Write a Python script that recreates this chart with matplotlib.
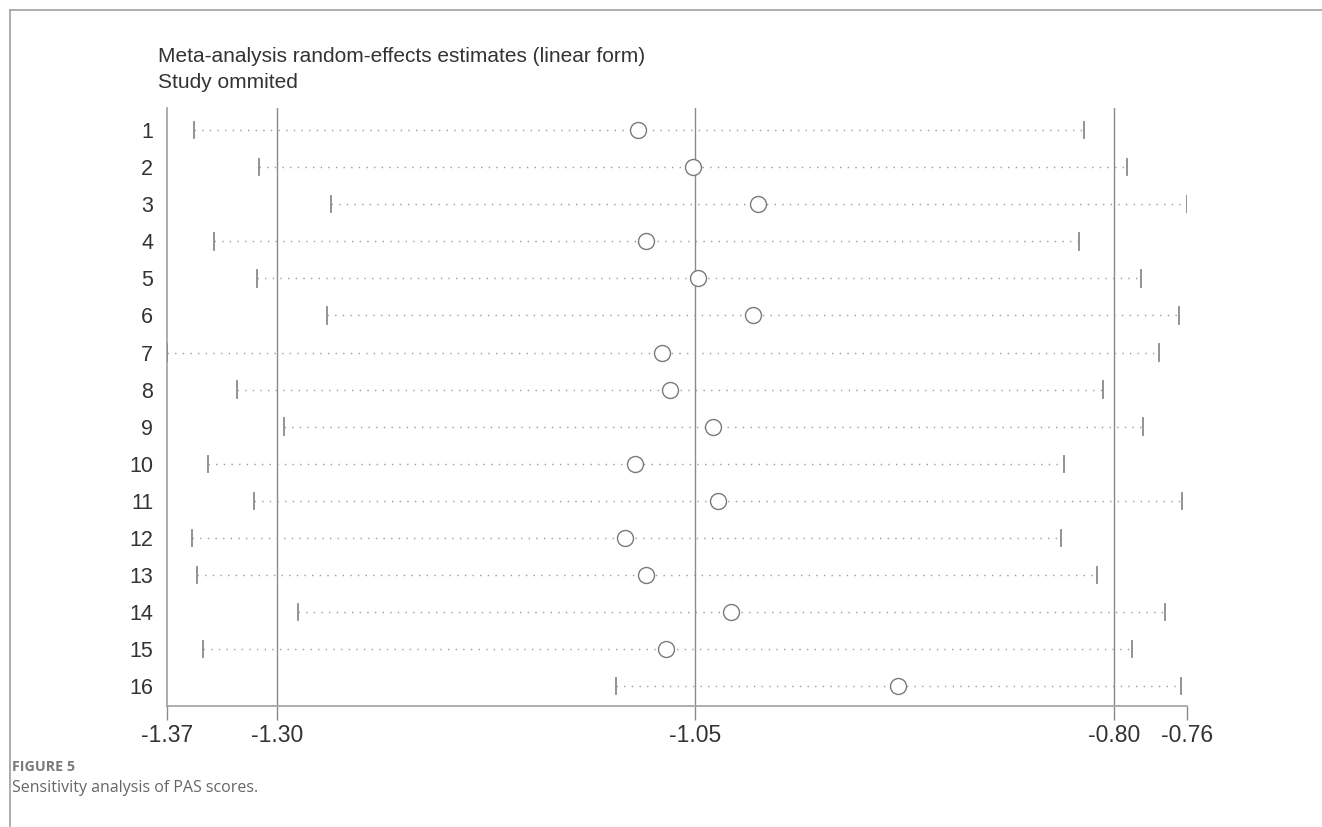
import matplotlib
matplotlib.use("Agg")
import matplotlib.pyplot as plt
from matplotlib.lines import Line2D

# ---- data ----
studies = [str(i) for i in range(1, 17)]
estimate = [-1.0844, -1.0511, -1.0123, -1.0792, -1.0485, -1.0153, -1.0696, -1.0653,
            -1.0396, -1.0857, -1.0364, -1.0917, -1.0792, -1.0284, -1.0675, -0.9290]
lower = [-1.3492, -1.3103, -1.2678, -1.3375, -1.3118, -1.2700, -1.3655, -1.3238,
         -1.2957, -1.3413, -1.3134, -1.3508, -1.3478, -1.2875, -1.3442, -1.0973]
upper = [-0.8179, -0.7922, -0.7562, -0.8207, -0.7835, -0.7608, -0.7731, -0.8061,
         -0.7827, -0.8296, -0.7592, -0.8312, -0.8097, -0.7693, -0.7893, -0.7596]
ref_lines = [-1.30, -1.05, -0.80]
title_lines = ["Meta-analysis random-effects estimates (linear form)", "Study ommited"]
fig_label = "FIGURE 5"
caption = "Sensitivity analysis of PAS scores."

plt.rcParams['font.family'] = ['Liberation Sans', 'DejaVu Sans']

W, H = 1322, 827
fig = plt.figure(figsize=(W / 100, H / 100), dpi=100)
fig.patch.set_facecolor('white')

# outer frame (gray border, top and left)
fig.add_artist(Line2D([10 / W, 10 / W], [0, 1 - 10 / H], transform=fig.transFigure,
                      color='#a0a0a0', lw=1.2))
fig.add_artist(Line2D([10 / W, 1], [1 - 10 / H, 1 - 10 / H], transform=fig.transFigure,
                      color='#a0a0a0', lw=1.2))

ax = fig.add_axes([167 / W, 121 / H, (1187 - 167) / W, (706 - 108) / H])

xmin = min(lower)
xmax = max(upper)
ypos = list(range(1, len(studies) + 1))

for r in ref_lines:
    ax.axvline(r, color='#8a8a8a', lw=1.0, zorder=1)

for y, lo, est, hi in zip(ypos, lower, estimate, upper):
    ax.plot([lo, hi], [y, y], linestyle=(0, (1, 4.5)), color='#9a9a9a', lw=1.0, zorder=2)
    ax.plot([lo, lo], [y - 0.22, y + 0.22], color='#8a8a8a', lw=1.3, zorder=3)
    ax.plot([hi, hi], [y - 0.22, y + 0.22], color='#8a8a8a', lw=1.3, zorder=3)

ax.plot(estimate, ypos, linestyle='none', marker='o', markersize=11.5,
        markerfacecolor='white', markeredgecolor='#7a7a7a', markeredgewidth=1.0, zorder=4)

ax.set_xlim(xmin, xmax)
ax.set_ylim(len(studies) + 0.54, 0.4)

ax.set_yticks(ypos)
ax.set_yticklabels(studies)
xt = [xmin] + ref_lines + [xmax]
ax.set_xticks(xt)
ax.set_xticklabels([f"{v:.2f}" for v in xt])

ax.tick_params(axis='y', length=0, pad=10, labelsize=15.5, labelcolor='#333333')
ax.tick_params(axis='x', length=10, width=1.0, color='#8a8a8a', pad=3,
               labelsize=16.5, labelcolor='#333333')

for s in ['top', 'right']:
    ax.spines[s].set_visible(False)
for s in ['left', 'bottom']:
    ax.spines[s].set_color('#a0a0a0')
    ax.spines[s].set_linewidth(1.2)

# titles
fig.text(158 / W, 1 - 57 / H, title_lines[0], fontsize=15, color='#333333',
         ha='left', va='center')
fig.text(158 / W, 1 - 82 / H, title_lines[1], fontsize=15, color='#333333',
         ha='left', va='center')

# caption
fig.text(12 / W, 1 - 767 / H, fig_label, fontsize=10.3, color='#7a7a7a',
         fontweight='bold', family=['Open Sans', 'DejaVu Sans'], ha='left', va='center')
fig.text(12 / W, 1 - 788 / H, caption, fontsize=11.5, color='#666666',
         family=['Open Sans', 'DejaVu Sans'], ha='left', va='center')

fig.savefig('out.png', dpi=100, facecolor='white')
